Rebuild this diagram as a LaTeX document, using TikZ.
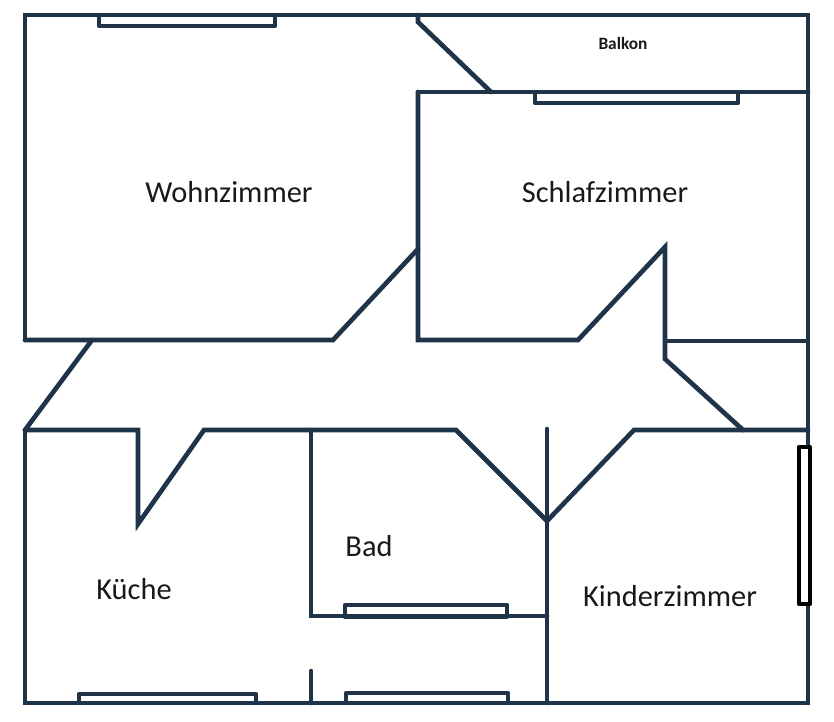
\documentclass[tikz,border=0pt]{standalone}
\usepackage{fontspec}
\setmainfont{Carlito}
\usepackage{xcolor}
\definecolor{wallblue}{RGB}{31,52,73}
\tikzset{%
    wall/.style={line width=3.5pt,draw=wallblue,line join=miter,line cap=round},
    pane/.style={line width=3.2pt,draw=wallblue,line join=round},
    blackpane/.style={line width=3.2pt,draw=black,fill=white,line join=round},
    room/.style={font=\fontsize{22.8}{26}\selectfont,text=black!90,inner sep=0pt},
    smallroom/.style={font=\fontsize{13}{15}\selectfont\bfseries,text=black!90,inner sep=0pt}
}
\begin{document}
\begin{tikzpicture}[x=0.75pt,y=-0.75pt]
\useasboundingbox (0,0) rectangle (834,721);
% outer walls
\draw[wall] (25,340) -- (25,15) -- (808,15) -- (808,703) -- (25,703) -- (25,430);
% balkon
\draw[wall] (418,15) -- (418,22) -- (491,92);
\draw[wall] (418,92) -- (808,92);
% wohnzimmer and schlafzimmer
\draw[wall] (25,340) -- (333,340) -- (418,249);
\draw[wall] (418,92) -- (418,340) -- (578,340) -- (665,247) -- (665,359) -- (743,430);
\draw[wall,line width=2.8pt] (665,341) -- (808,341);
% flur
\draw[wall] (92,340) -- (25,430);
\draw[wall] (25,430) -- (138,430) -- (138,524) -- (204,430) -- (456,430) -- (547,521) -- (634,430) -- (808,430);
% bad and kinderzimmer
\draw[wall] (547,429) -- (547,703);
\draw[wall] (311,430) -- (311,616) -- (547,616);
\draw[wall] (311,671) -- (311,703);
% windows
\draw[pane] (99,15) -- (99,26) -- (275,26) -- (275,15);
\draw[pane] (535,92) -- (535,103) -- (738,103) -- (738,92);
\draw[pane] (345,617) rectangle (507,605);
\draw[pane] (79,703) -- (79,694) -- (256,694) -- (256,703);
\draw[pane] (346,703) -- (346,693) -- (508,693) -- (508,703);
\draw[blackpane] (799,447) rectangle (810,604);
% labels
\node[room] (wohnzimmer) at (229,192) {Wohnzimmer};
\node[room] (schlafzimmer) at (605,192) {Schlafzimmer};
\node[smallroom] (balkon) at (623,43) {Balkon};
\node[room] (kueche) at (134,589) {Küche};
\node[room] (bad) at (369,546) {Bad};
\node[room] (kinderzimmer) at (670,596) {Kinderzimmer};
\end{tikzpicture}
\end{document}
